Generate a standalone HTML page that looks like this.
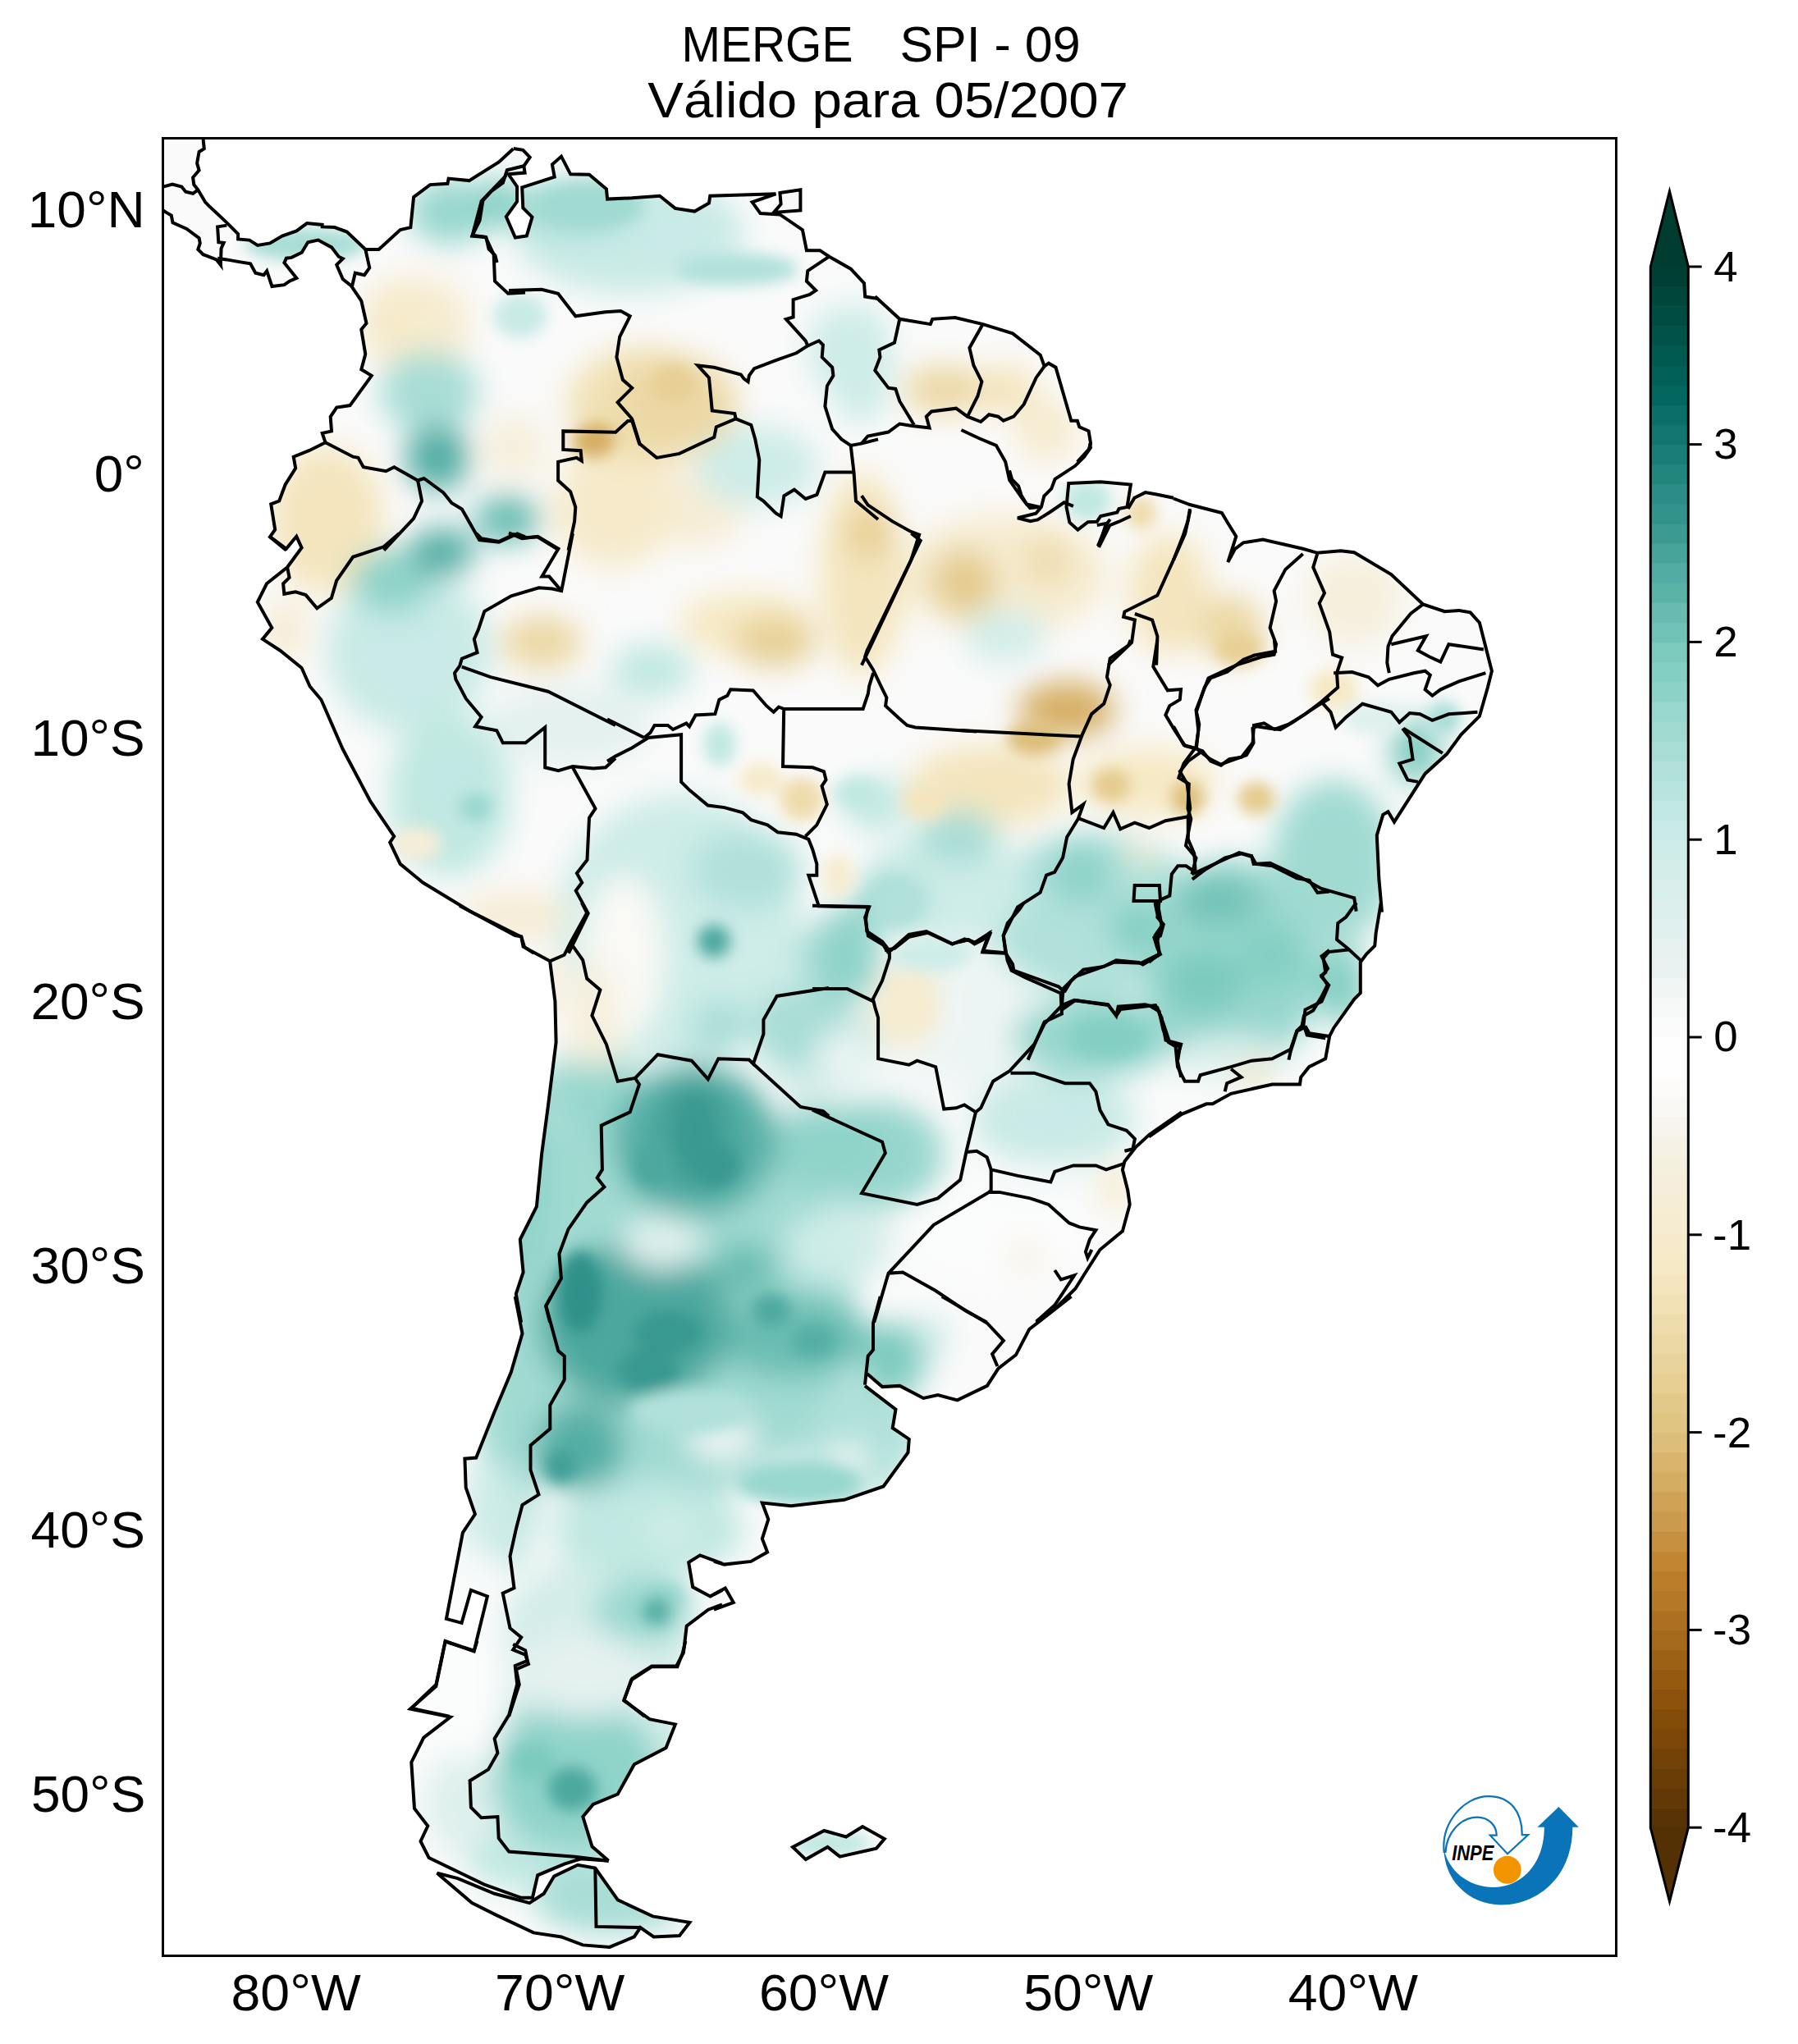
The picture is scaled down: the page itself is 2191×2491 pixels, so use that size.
<!DOCTYPE html>
<html><head><meta charset="utf-8"><style>
html,body{margin:0;padding:0;background:#fff;width:2191px;height:2491px;overflow:hidden}
svg{display:block}
text{font-family:"Liberation Sans",sans-serif;fill:#000}
</style></head><body>
<svg width="2191" height="2491" viewBox="0 0 2191 2491">
<defs><clipPath id="ax"><rect x="198.5" y="168.5" width="1771" height="2215"/></clipPath>
<filter id="bl" x="-5%" y="-5%" width="110%" height="110%"><feGaussianBlur stdDeviation="18"/></filter><filter id="bls" x="-20%" y="-20%" width="140%" height="140%"><feGaussianBlur stdDeviation="9"/></filter>
<clipPath id="landclip"><path d="M247.6 100.0 L247.6 170.0 L248.8 181.3 L242.6 185.0 L240.1 198.8 L242.6 207.6 L235.1 216.3 L236.3 225.1 L241.3 231.3 L250.1 246.3 L255.1 251.4 L275.1 270.1 L290.1 285.1 L290.1 291.4 L303.9 292.6 L313.9 298.9 L328.9 296.4 L343.9 287.6 L361.4 281.4 L374.0 272.1 L392.7 273.9 L392.7 276.4 L407.7 277.1 L422.8 282.6 L445.3 303.9 L461.6 303.9 L487.8 280.1 L500.3 277.1 L504.1 240.1 L524.1 225.1 L545.4 223.8 L546.6 217.6 L571.7 220.1 L608.0 197.5 L625.5 181.3 L625.7 181.1 L637.3 182.8 L645.7 191.7 L638.4 202.3 L639.6 210.6 L619.5 212.3 L630.1 227.3 L630.1 245.6 L616.8 264.0 L627.9 289.6 L641.8 287.4 L648.5 264.5 L637.3 253.4 L636.2 228.4 L675.7 215.6 L672.9 200.6 L684.0 190.6 L695.2 212.3 L718.0 212.8 L740.0 231.2 L738.9 230.1 L740.1 242.6 L770.2 241.3 L804.0 238.8 L822.7 253.9 L846.5 257.6 L864.0 247.6 L865.3 238.8 L945.4 236.3 L916.6 246.3 L926.6 260.1 L950.4 261.4 L977.9 280.1 L982.9 305.2 L999.2 305.2 L1010.4 312.7 L1036.7 327.7 L1053.0 345.2 L1054.2 361.5 L1070.0 364.0 L1066.3 361.3 L1096.3 388.8 L1133.8 395.1 L1136.3 388.8 L1163.9 387.1 L1197.7 395.1 L1234.0 406.4 L1267.7 432.6 L1272.7 446.4 L1277.8 442.7 L1286.5 447.7 L1302.8 504.0 L1305.3 512.7 L1312.8 512.7 L1315.3 520.2 L1326.6 525.3 L1329.1 540.3 L1326.6 547.8 L1312.8 562.8 L1327.9 540.0 L1329.0 545.6 L1321.2 556.7 L1310.1 567.8 L1296.7 576.7 L1285.6 583.9 L1302.3 588.9 L1341.2 587.3 L1377.9 590.6 L1382.4 606.7 L1395.7 600.1 L1408.0 602.3 L1430.0 606.7 L1430.0 607.5 L1450.0 615.0 L1488.8 625.0 L1496.3 637.5 L1506.3 653.8 L1496.3 685.1 L1505.1 668.8 L1515.1 661.3 L1538.9 657.6 L1587.7 668.8 L1605.2 673.8 L1634.0 671.3 L1650.2 673.3 L1695.3 700.1 L1734.1 736.4 L1760.4 745.2 L1777.9 743.9 L1791.7 746.4 L1802.9 758.9 L1817.9 817.7 L1812.9 837.8 L1802.9 872.8 L1780.4 895.3 L1762.9 919.1 L1736.6 942.9 L1699.0 1001.7 L1691.5 989.2 L1685.3 992.9 L1677.8 1018.0 L1680.3 1070.5 L1684.0 1111.6 L1682.8 1100.0 L1676.6 1137.5 L1675.3 1152.6 L1665.3 1162.6 L1657.8 1172.6 L1657.8 1210.1 L1650.3 1217.6 L1637.8 1235.2 L1625.3 1252.7 L1620.2 1262.7 L1615.2 1290.2 L1595.2 1300.2 L1585.2 1312.7 L1584.0 1321.5 L1550.2 1321.5 L1500.1 1332.8 L1477.6 1345.3 L1470.1 1345.3 L1440.0 1357.8 L1400.0 1385.3 L1440.0 1355.3 L1400.5 1382.8 L1384.2 1397.8 L1370.4 1415.4 L1367.9 1425.4 L1374.2 1450.4 L1376.7 1467.9 L1367.9 1500.4 L1340.4 1523.0 L1322.9 1550.5 L1310.4 1570.5 L1290.3 1590.5 L1262.8 1611.6 L1305.5 1580.0 L1254.2 1620.0 L1237.9 1651.3 L1216.6 1667.6 L1202.9 1688.9 L1166.6 1706.4 L1142.8 1700.1 L1125.3 1703.9 L1096.5 1688.9 L1075.2 1690.1 L1056.5 1673.9 L1054.0 1688.9 L1091.5 1717.7 L1087.7 1740.2 L1107.8 1753.9 L1106.5 1770.2 L1076.5 1811.5 L1028.9 1827.8 L963.9 1835.3 L928.8 1831.5 L936.3 1851.6 L928.8 1875.3 L935.1 1891.6 L915.1 1902.9 L882.5 1906.6 L870.0 1902.9 L880.0 1905.4 L853.0 1895.4 L839.2 1904.1 L844.2 1934.1 L865.5 1945.4 L880.0 1937.9 L870.0 1942.9 L883.8 1935.4 L893.8 1952.9 L870.0 1961.7 L880.0 1955.4 L863.0 1961.7 L836.7 1981.7 L835.4 2000.0 L831.7 2015.0 L825.4 2031.3 L794.1 2031.3 L769.1 2047.6 L760.3 2072.6 L791.6 2095.1 L822.9 2101.4 L811.6 2130.1 L772.8 2150.2 L752.8 2186.5 L722.8 2199.0 L710.3 2214.0 L721.5 2250.3 L741.6 2267.8 L741.6 2267.8 L707.8 2265.3 L687.7 2271.6 L655.2 2285.3 L648.9 2312.8 L635.2 2312.8 L590.1 2296.6 L522.6 2264.0 L512.5 2244.0 L521.3 2225.3 L505.0 2204.0 L501.3 2147.7 L516.3 2117.6 L548.8 2092.6 L500.0 2082.6 L531.3 2055.1 L542.6 2000.0 L577.6 2012.5 L581.4 2000.0 L547.6 2091.6 L501.3 2081.8 L531.4 2053.0 L542.6 2000.5 L577.7 2011.7 L593.9 1945.4 L573.9 1937.9 L562.6 1977.9 L543.9 1972.9 L563.9 1867.8 L578.9 1845.3 L567.7 1812.8 L566.4 1777.7 L580.2 1776.5 L602.7 1720.2 L622.7 1672.6 L636.5 1625.1 L627.7 1580.0 L635.1 1611.6 L628.8 1576.8 L637.6 1550.5 L633.8 1510.5 L653.9 1470.4 L660.1 1406.6 L667.6 1350.3 L677.6 1270.2 L676.4 1220.1 L670.1 1171.3 L637.6 1153.8 L635.1 1141.3 L635.4 1141.8 L572.8 1110.5 L515.2 1075.5 L487.7 1052.9 L475.2 1026.7 L480.2 1019.2 L451.4 976.6 L417.6 912.8 L391.4 852.7 L377.6 836.5 L367.6 813.9 L341.3 792.7 L320.0 778.9 L331.3 765.1 L313.8 733.8 L325.0 711.3 L350.1 691.3 L367.6 667.5 L361.3 653.8 L348.8 668.8 L328.8 653.8 L348.9 670.6 L328.9 654.3 L335.2 645.5 L330.2 614.3 L340.2 610.5 L347.7 590.5 L360.2 570.5 L357.7 556.7 L376.5 549.2 L396.5 539.2 L392.7 527.9 L404.0 525.4 L402.7 507.9 L410.2 496.6 L426.5 494.1 L452.8 457.8 L440.3 450.3 L445.3 431.6 L440.3 401.5 L446.5 394.0 L440.3 366.5 L427.8 348.2 L417.8 340.2 L410.2 322.7 L417.8 315.2 L412.7 312.7 L404.0 301.4 L387.7 292.6 L375.2 295.2 L367.7 307.7 L355.2 313.9 L348.9 314.7 L346.4 320.2 L361.4 338.9 L352.7 342.7 L346.4 347.2 L331.4 349.0 L325.2 330.2 L321.4 335.2 L311.4 332.7 L305.1 321.4 L290.1 318.9 L276.3 316.4 L267.6 315.2 L268.8 322.7 L263.8 316.4 L247.6 310.2 L241.3 303.9 L243.8 296.4 L242.6 290.1 L227.5 278.9 L210.5 271.4 L208.8 262.6 L202.5 258.9 L198.8 256.4 L150.0 256.0 L150.0 100.0 Z M950.4 235.1 L975.4 231.3 L975.4 256.4 L942.9 258.9 L951.6 248.8 Z M532.6 2282.8 L557.6 2289.1 L602.6 2307.8 L645.2 2319.1 L662.7 2307.8 L675.2 2286.6 L704.0 2272.8 L725.3 2276.6 L752.8 2315.4 L795.4 2335.4 L840.4 2342.9 L827.9 2359.1 L796.6 2360.4 L780.3 2349.1 L772.8 2360.4 L742.8 2372.9 L710.3 2370.4 L684.0 2360.4 L650.2 2355.4 L605.2 2334.1 L575.1 2319.1 Z M966.0 2251.0 L1004.3 2231.0 L1031.0 2238.5 L1051.1 2226.0 L1077.8 2241.0 L1067.8 2252.7 L1023.5 2262.7 L1008.5 2251.0 L981.8 2266.1 Z"/></clipPath>
</defs>
<g clip-path="url(#ax)">
<path d="M247.6 100.0 L247.6 170.0 L248.8 181.3 L242.6 185.0 L240.1 198.8 L242.6 207.6 L235.1 216.3 L236.3 225.1 L241.3 231.3 L250.1 246.3 L255.1 251.4 L275.1 270.1 L290.1 285.1 L290.1 291.4 L303.9 292.6 L313.9 298.9 L328.9 296.4 L343.9 287.6 L361.4 281.4 L374.0 272.1 L392.7 273.9 L392.7 276.4 L407.7 277.1 L422.8 282.6 L445.3 303.9 L461.6 303.9 L487.8 280.1 L500.3 277.1 L504.1 240.1 L524.1 225.1 L545.4 223.8 L546.6 217.6 L571.7 220.1 L608.0 197.5 L625.5 181.3 L625.7 181.1 L637.3 182.8 L645.7 191.7 L638.4 202.3 L639.6 210.6 L619.5 212.3 L630.1 227.3 L630.1 245.6 L616.8 264.0 L627.9 289.6 L641.8 287.4 L648.5 264.5 L637.3 253.4 L636.2 228.4 L675.7 215.6 L672.9 200.6 L684.0 190.6 L695.2 212.3 L718.0 212.8 L740.0 231.2 L738.9 230.1 L740.1 242.6 L770.2 241.3 L804.0 238.8 L822.7 253.9 L846.5 257.6 L864.0 247.6 L865.3 238.8 L945.4 236.3 L916.6 246.3 L926.6 260.1 L950.4 261.4 L977.9 280.1 L982.9 305.2 L999.2 305.2 L1010.4 312.7 L1036.7 327.7 L1053.0 345.2 L1054.2 361.5 L1070.0 364.0 L1066.3 361.3 L1096.3 388.8 L1133.8 395.1 L1136.3 388.8 L1163.9 387.1 L1197.7 395.1 L1234.0 406.4 L1267.7 432.6 L1272.7 446.4 L1277.8 442.7 L1286.5 447.7 L1302.8 504.0 L1305.3 512.7 L1312.8 512.7 L1315.3 520.2 L1326.6 525.3 L1329.1 540.3 L1326.6 547.8 L1312.8 562.8 L1327.9 540.0 L1329.0 545.6 L1321.2 556.7 L1310.1 567.8 L1296.7 576.7 L1285.6 583.9 L1302.3 588.9 L1341.2 587.3 L1377.9 590.6 L1382.4 606.7 L1395.7 600.1 L1408.0 602.3 L1430.0 606.7 L1430.0 607.5 L1450.0 615.0 L1488.8 625.0 L1496.3 637.5 L1506.3 653.8 L1496.3 685.1 L1505.1 668.8 L1515.1 661.3 L1538.9 657.6 L1587.7 668.8 L1605.2 673.8 L1634.0 671.3 L1650.2 673.3 L1695.3 700.1 L1734.1 736.4 L1760.4 745.2 L1777.9 743.9 L1791.7 746.4 L1802.9 758.9 L1817.9 817.7 L1812.9 837.8 L1802.9 872.8 L1780.4 895.3 L1762.9 919.1 L1736.6 942.9 L1699.0 1001.7 L1691.5 989.2 L1685.3 992.9 L1677.8 1018.0 L1680.3 1070.5 L1684.0 1111.6 L1682.8 1100.0 L1676.6 1137.5 L1675.3 1152.6 L1665.3 1162.6 L1657.8 1172.6 L1657.8 1210.1 L1650.3 1217.6 L1637.8 1235.2 L1625.3 1252.7 L1620.2 1262.7 L1615.2 1290.2 L1595.2 1300.2 L1585.2 1312.7 L1584.0 1321.5 L1550.2 1321.5 L1500.1 1332.8 L1477.6 1345.3 L1470.1 1345.3 L1440.0 1357.8 L1400.0 1385.3 L1440.0 1355.3 L1400.5 1382.8 L1384.2 1397.8 L1370.4 1415.4 L1367.9 1425.4 L1374.2 1450.4 L1376.7 1467.9 L1367.9 1500.4 L1340.4 1523.0 L1322.9 1550.5 L1310.4 1570.5 L1290.3 1590.5 L1262.8 1611.6 L1305.5 1580.0 L1254.2 1620.0 L1237.9 1651.3 L1216.6 1667.6 L1202.9 1688.9 L1166.6 1706.4 L1142.8 1700.1 L1125.3 1703.9 L1096.5 1688.9 L1075.2 1690.1 L1056.5 1673.9 L1054.0 1688.9 L1091.5 1717.7 L1087.7 1740.2 L1107.8 1753.9 L1106.5 1770.2 L1076.5 1811.5 L1028.9 1827.8 L963.9 1835.3 L928.8 1831.5 L936.3 1851.6 L928.8 1875.3 L935.1 1891.6 L915.1 1902.9 L882.5 1906.6 L870.0 1902.9 L880.0 1905.4 L853.0 1895.4 L839.2 1904.1 L844.2 1934.1 L865.5 1945.4 L880.0 1937.9 L870.0 1942.9 L883.8 1935.4 L893.8 1952.9 L870.0 1961.7 L880.0 1955.4 L863.0 1961.7 L836.7 1981.7 L835.4 2000.0 L831.7 2015.0 L825.4 2031.3 L794.1 2031.3 L769.1 2047.6 L760.3 2072.6 L791.6 2095.1 L822.9 2101.4 L811.6 2130.1 L772.8 2150.2 L752.8 2186.5 L722.8 2199.0 L710.3 2214.0 L721.5 2250.3 L741.6 2267.8 L741.6 2267.8 L707.8 2265.3 L687.7 2271.6 L655.2 2285.3 L648.9 2312.8 L635.2 2312.8 L590.1 2296.6 L522.6 2264.0 L512.5 2244.0 L521.3 2225.3 L505.0 2204.0 L501.3 2147.7 L516.3 2117.6 L548.8 2092.6 L500.0 2082.6 L531.3 2055.1 L542.6 2000.0 L577.6 2012.5 L581.4 2000.0 L547.6 2091.6 L501.3 2081.8 L531.4 2053.0 L542.6 2000.5 L577.7 2011.7 L593.9 1945.4 L573.9 1937.9 L562.6 1977.9 L543.9 1972.9 L563.9 1867.8 L578.9 1845.3 L567.7 1812.8 L566.4 1777.7 L580.2 1776.5 L602.7 1720.2 L622.7 1672.6 L636.5 1625.1 L627.7 1580.0 L635.1 1611.6 L628.8 1576.8 L637.6 1550.5 L633.8 1510.5 L653.9 1470.4 L660.1 1406.6 L667.6 1350.3 L677.6 1270.2 L676.4 1220.1 L670.1 1171.3 L637.6 1153.8 L635.1 1141.3 L635.4 1141.8 L572.8 1110.5 L515.2 1075.5 L487.7 1052.9 L475.2 1026.7 L480.2 1019.2 L451.4 976.6 L417.6 912.8 L391.4 852.7 L377.6 836.5 L367.6 813.9 L341.3 792.7 L320.0 778.9 L331.3 765.1 L313.8 733.8 L325.0 711.3 L350.1 691.3 L367.6 667.5 L361.3 653.8 L348.8 668.8 L328.8 653.8 L348.9 670.6 L328.9 654.3 L335.2 645.5 L330.2 614.3 L340.2 610.5 L347.7 590.5 L360.2 570.5 L357.7 556.7 L376.5 549.2 L396.5 539.2 L392.7 527.9 L404.0 525.4 L402.7 507.9 L410.2 496.6 L426.5 494.1 L452.8 457.8 L440.3 450.3 L445.3 431.6 L440.3 401.5 L446.5 394.0 L440.3 366.5 L427.8 348.2 L417.8 340.2 L410.2 322.7 L417.8 315.2 L412.7 312.7 L404.0 301.4 L387.7 292.6 L375.2 295.2 L367.7 307.7 L355.2 313.9 L348.9 314.7 L346.4 320.2 L361.4 338.9 L352.7 342.7 L346.4 347.2 L331.4 349.0 L325.2 330.2 L321.4 335.2 L311.4 332.7 L305.1 321.4 L290.1 318.9 L276.3 316.4 L267.6 315.2 L268.8 322.7 L263.8 316.4 L247.6 310.2 L241.3 303.9 L243.8 296.4 L242.6 290.1 L227.5 278.9 L210.5 271.4 L208.8 262.6 L202.5 258.9 L198.8 256.4 L150.0 256.0 L150.0 100.0 Z M950.4 235.1 L975.4 231.3 L975.4 256.4 L942.9 258.9 L951.6 248.8 Z M532.6 2282.8 L557.6 2289.1 L602.6 2307.8 L645.2 2319.1 L662.7 2307.8 L675.2 2286.6 L704.0 2272.8 L725.3 2276.6 L752.8 2315.4 L795.4 2335.4 L840.4 2342.9 L827.9 2359.1 L796.6 2360.4 L780.3 2349.1 L772.8 2360.4 L742.8 2372.9 L710.3 2370.4 L684.0 2360.4 L650.2 2355.4 L605.2 2334.1 L575.1 2319.1 Z M966.0 2251.0 L1004.3 2231.0 L1031.0 2238.5 L1051.1 2226.0 L1077.8 2241.0 L1067.8 2252.7 L1023.5 2262.7 L1008.5 2251.0 L981.8 2266.1 Z" fill="#fafafa"/>
<g clip-path="url(#landclip)"><g filter="url(#bl)"><ellipse cx="1083" cy="1280" rx="83" ry="67" fill="#f6f9f9"/><ellipse cx="1184" cy="1230" rx="100" ry="100" fill="#edf5f4"/><ellipse cx="717" cy="2080" rx="133" ry="184" fill="#d4ede9"/><ellipse cx="827" cy="1134" rx="150" ry="167" fill="#ceece8"/><ellipse cx="767" cy="285" rx="140" ry="73" fill="#c9eae6"/><ellipse cx="1334" cy="1114" rx="133" ry="100" fill="#b1e1da"/><ellipse cx="1041" cy="1747" rx="77" ry="77" fill="#b1e1da"/><ellipse cx="807" cy="1580" rx="234" ry="250" fill="#a0dad1"/><ellipse cx="623" cy="1614" rx="43" ry="300" fill="#a0dad1"/><ellipse cx="1501" cy="1180" rx="107" ry="133" fill="#98d7cd"/><ellipse cx="724" cy="1330" rx="57" ry="53" fill="#98d7cd"/><ellipse cx="1650" cy="750" rx="50" ry="40" fill="#f5f0e2"/><ellipse cx="693" cy="884" rx="100" ry="50" fill="#e4f1ef"/><ellipse cx="1650" cy="725" rx="60" ry="50" fill="#f5efdc"/><ellipse cx="627" cy="545" rx="40" ry="40" fill="#f5efdc"/><ellipse cx="348" cy="768" rx="30" ry="40" fill="#f6edd7"/><ellipse cx="848" cy="618" rx="60" ry="50" fill="#f6edd7"/><ellipse cx="1040" cy="1514" rx="50" ry="47" fill="#d9eeeb"/><ellipse cx="627" cy="1117" rx="67" ry="33" fill="#f6edd7"/><ellipse cx="1275" cy="525" rx="40" ry="40" fill="#f6ecd1"/><ellipse cx="1225" cy="700" rx="125" ry="75" fill="#f6ecd1"/><ellipse cx="1225" cy="775" rx="50" ry="35" fill="#d4ede9"/><ellipse cx="730" cy="1250" rx="30" ry="50" fill="#f6ecd1"/><ellipse cx="1100" cy="1240" rx="40" ry="40" fill="#f6ecd1"/><ellipse cx="507" cy="395" rx="67" ry="60" fill="#f6ecd1"/><ellipse cx="923" cy="568" rx="75" ry="50" fill="#ceece8"/><ellipse cx="1048" cy="443" rx="40" ry="75" fill="#ceece8"/><ellipse cx="478" cy="393" rx="40" ry="50" fill="#f6eacb"/><ellipse cx="748" cy="618" rx="75" ry="75" fill="#f6eacb"/><ellipse cx="1015" cy="425" rx="30" ry="50" fill="#ceece8"/><ellipse cx="1150" cy="1080" rx="100" ry="67" fill="#ceece8"/><ellipse cx="600" cy="1847" rx="37" ry="67" fill="#ceece8"/><ellipse cx="1111" cy="1201" rx="33" ry="33" fill="#f6eacb"/><ellipse cx="498" cy="793" rx="100" ry="100" fill="#c9eae6"/><ellipse cx="1400" cy="953" rx="83" ry="43" fill="#f6e9c5"/><ellipse cx="1284" cy="1364" rx="100" ry="57" fill="#c9eae6"/><ellipse cx="1000" cy="1275" rx="75" ry="50" fill="#c9eae6"/><ellipse cx="910" cy="760" rx="83" ry="40" fill="#f6e9c5"/><ellipse cx="548" cy="968" rx="75" ry="100" fill="#c1e8e2"/><ellipse cx="398" cy="633" rx="70" ry="90" fill="#f4e5be"/><ellipse cx="1073" cy="718" rx="30" ry="75" fill="#f4e5be"/><ellipse cx="1225" cy="475" rx="40" ry="30" fill="#f4e5be"/><ellipse cx="1050" cy="700" rx="50" ry="125" fill="#f4e5be"/><ellipse cx="1425" cy="725" rx="50" ry="75" fill="#f4e5be"/><ellipse cx="1207" cy="957" rx="100" ry="50" fill="#f4e5be"/><ellipse cx="1067" cy="980" rx="40" ry="33" fill="#c1e8e2"/><ellipse cx="790" cy="1864" rx="117" ry="60" fill="#c1e8e2"/><ellipse cx="650" cy="2264" rx="83" ry="40" fill="#c1e8e2"/><ellipse cx="794" cy="817" rx="50" ry="33" fill="#c1e8e2"/><ellipse cx="784" cy="495" rx="93" ry="73" fill="#f1e1b5"/><ellipse cx="1275" cy="685" rx="30" ry="30" fill="#efdcad"/><ellipse cx="910" cy="1060" rx="67" ry="50" fill="#b1e1da"/><ellipse cx="698" cy="253" rx="75" ry="35" fill="#a8ddd5"/><ellipse cx="523" cy="478" rx="60" ry="50" fill="#a8ddd5"/><ellipse cx="823" cy="493" rx="75" ry="60" fill="#ecd8a5"/><ellipse cx="1150" cy="475" rx="50" ry="30" fill="#ecd8a5"/><ellipse cx="1500" cy="765" rx="40" ry="40" fill="#ecd8a5"/><ellipse cx="1167" cy="1020" rx="50" ry="33" fill="#a8ddd5"/><ellipse cx="744" cy="2314" rx="93" ry="43" fill="#a8ddd5"/><ellipse cx="660" cy="783" rx="50" ry="33" fill="#ecd8a5"/><ellipse cx="1011" cy="1167" rx="40" ry="43" fill="#a8ddd5"/><ellipse cx="877" cy="1251" rx="33" ry="33" fill="#a8ddd5"/><ellipse cx="977" cy="1251" rx="60" ry="50" fill="#a8ddd5"/><ellipse cx="1625" cy="1050" rx="75" ry="100" fill="#a0dad1"/><ellipse cx="1083" cy="1097" rx="43" ry="33" fill="#a0dad1"/><ellipse cx="623" cy="1697" rx="37" ry="83" fill="#a0dad1"/><ellipse cx="548" cy="258" rx="50" ry="40" fill="#98d7cd"/><ellipse cx="1060" cy="650" rx="30" ry="30" fill="#e7cf94"/><ellipse cx="1334" cy="1264" rx="100" ry="50" fill="#98d7cd"/><ellipse cx="1067" cy="1407" rx="83" ry="67" fill="#98d7cd"/><ellipse cx="784" cy="1963" rx="60" ry="40" fill="#98d7cd"/><ellipse cx="944" cy="783" rx="50" ry="30" fill="#e7cf94"/><ellipse cx="478" cy="708" rx="50" ry="40" fill="#8fd3c9"/><ellipse cx="1175" cy="710" rx="40" ry="40" fill="#e4ca8c"/><ellipse cx="1317" cy="1064" rx="40" ry="40" fill="#8fd3c9"/><ellipse cx="1033" cy="1164" rx="40" ry="60" fill="#8fd3c9"/><ellipse cx="630" cy="1413" rx="40" ry="150" fill="#8fd3c9"/><ellipse cx="1007" cy="1397" rx="73" ry="50" fill="#8fd3c9"/><ellipse cx="700" cy="2164" rx="107" ry="93" fill="#8fd3c9"/><ellipse cx="608" cy="248" rx="30" ry="30" fill="#84cfc3"/><ellipse cx="1635" cy="1200" rx="30" ry="50" fill="#84cfc3"/><ellipse cx="1384" cy="1130" rx="33" ry="33" fill="#84cfc3"/><ellipse cx="1551" cy="1164" rx="40" ry="40" fill="#84cfc3"/><ellipse cx="1725" cy="915" rx="30" ry="40" fill="#7ccabe"/><ellipse cx="1467" cy="1197" rx="50" ry="40" fill="#7ccabe"/><ellipse cx="1091" cy="1654" rx="40" ry="43" fill="#7ccabe"/><ellipse cx="1484" cy="1097" rx="50" ry="33" fill="#73c3b8"/><ellipse cx="618" cy="633" rx="40" ry="30" fill="#6abdb2"/><ellipse cx="1300" cy="865" rx="60" ry="35" fill="#d6af65"/><ellipse cx="907" cy="1547" rx="40" ry="33" fill="#6abdb2"/><ellipse cx="967" cy="1630" rx="93" ry="50" fill="#6abdb2"/><ellipse cx="533" cy="558" rx="40" ry="40" fill="#55aea5"/><ellipse cx="538" cy="673" rx="40" ry="30" fill="#55aea5"/><ellipse cx="847" cy="1390" rx="100" ry="93" fill="#55aea5"/><ellipse cx="707" cy="1764" rx="53" ry="53" fill="#55aea5"/><ellipse cx="774" cy="1614" rx="117" ry="100" fill="#4da89f"/><ellipse cx="847" cy="1380" rx="40" ry="67" fill="#389991"/><ellipse cx="1217" cy="1507" rx="117" ry="53" fill="#fbfcfc"/><ellipse cx="557" cy="2047" rx="60" ry="150" fill="#fbfcfc"/><ellipse cx="1284" cy="1437" rx="83" ry="20" fill="#f6f9f9"/><ellipse cx="580" cy="1914" rx="30" ry="27" fill="#f6f9f9"/><ellipse cx="760" cy="1167" rx="50" ry="100" fill="#faf9f6"/><ellipse cx="880" cy="1754" rx="43" ry="27" fill="#edf5f4"/><ellipse cx="1031" cy="1781" rx="30" ry="20" fill="#edf5f4"/><ellipse cx="1027" cy="1284" rx="33" ry="27" fill="#edf5f4"/><ellipse cx="710" cy="2040" rx="83" ry="53" fill="#e4f1ef"/><ellipse cx="1501" cy="1290" rx="73" ry="27" fill="#def0ed"/><ellipse cx="1250" cy="1531" rx="20" ry="17" fill="#f5efdc"/><ellipse cx="807" cy="1514" rx="50" ry="33" fill="#def0ed"/><ellipse cx="560" cy="2197" rx="43" ry="60" fill="#def0ed"/><ellipse cx="720" cy="1234" rx="33" ry="67" fill="#f5efdc"/><ellipse cx="984" cy="1330" rx="33" ry="20" fill="#d9eeeb"/><ellipse cx="817" cy="1864" rx="27" ry="20" fill="#d4ede9"/><ellipse cx="1390" cy="1040" rx="17" ry="13" fill="#f6eacb"/><ellipse cx="1360" cy="1447" rx="20" ry="27" fill="#f6eacb"/><ellipse cx="1007" cy="1520" rx="50" ry="43" fill="#ceece8"/><ellipse cx="1134" cy="1630" rx="20" ry="27" fill="#c9eae6"/><ellipse cx="1527" cy="1310" rx="20" ry="13" fill="#efdcad"/></g><g filter="url(#bls)"><ellipse cx="675" cy="1200" rx="20" ry="40" fill="#f5f0e2"/><ellipse cx="1675" cy="875" rx="40" ry="20" fill="#def0ed"/><ellipse cx="508" cy="1028" rx="30" ry="20" fill="#f6edd7"/><ellipse cx="1107" cy="1230" rx="33" ry="27" fill="#f6ecd1"/><ellipse cx="1021" cy="1067" rx="20" ry="27" fill="#f6ecd1"/><ellipse cx="1133" cy="1164" rx="50" ry="20" fill="#ceece8"/><ellipse cx="927" cy="950" rx="27" ry="20" fill="#f6eacb"/><ellipse cx="1625" cy="840" rx="30" ry="25" fill="#f6e9c5"/><ellipse cx="634" cy="385" rx="33" ry="27" fill="#c9eae6"/><ellipse cx="1325" cy="610" rx="30" ry="25" fill="#c1e8e2"/><ellipse cx="1011" cy="2247" rx="50" ry="17" fill="#c1e8e2"/><ellipse cx="877" cy="907" rx="20" ry="27" fill="#c1e8e2"/><ellipse cx="1044" cy="967" rx="27" ry="20" fill="#c1e8e2"/><ellipse cx="1127" cy="977" rx="27" ry="20" fill="#f4e5be"/><ellipse cx="898" cy="328" rx="75" ry="20" fill="#b1e1da"/><ellipse cx="1390" cy="625" rx="20" ry="20" fill="#efdcad"/><ellipse cx="840" cy="1720" rx="73" ry="27" fill="#b1e1da"/><ellipse cx="977" cy="974" rx="27" ry="27" fill="#efdcad"/><ellipse cx="1094" cy="1100" rx="33" ry="27" fill="#b1e1da"/><ellipse cx="373" cy="298" rx="75" ry="20" fill="#a8ddd5"/><ellipse cx="1760" cy="875" rx="20" ry="20" fill="#a8ddd5"/><ellipse cx="717" cy="251" rx="67" ry="27" fill="#a0dad1"/><ellipse cx="1510" cy="790" rx="30" ry="20" fill="#e7cf94"/><ellipse cx="974" cy="1807" rx="77" ry="27" fill="#98d7cd"/><ellipse cx="807" cy="1947" rx="27" ry="17" fill="#98d7cd"/><ellipse cx="580" cy="984" rx="20" ry="17" fill="#98d7cd"/><ellipse cx="821" cy="468" rx="27" ry="23" fill="#e7cf94"/><ellipse cx="1354" cy="957" rx="23" ry="20" fill="#e4ca8c"/><ellipse cx="1531" cy="973" rx="23" ry="20" fill="#e4ca8c"/><ellipse cx="1350" cy="1264" rx="50" ry="27" fill="#84cfc3"/><ellipse cx="1260" cy="900" rx="33" ry="20" fill="#ddbe78"/><ellipse cx="1447" cy="973" rx="20" ry="20" fill="#ddbe78"/><ellipse cx="650" cy="2147" rx="27" ry="23" fill="#7ccabe"/><ellipse cx="723" cy="538" rx="25" ry="20" fill="#d6af65"/><ellipse cx="727" cy="535" rx="23" ry="20" fill="#d6af65"/><ellipse cx="991" cy="1634" rx="27" ry="20" fill="#55aea5"/><ellipse cx="800" cy="1963" rx="17" ry="17" fill="#55aea5"/><ellipse cx="794" cy="1420" rx="23" ry="27" fill="#4da89f"/><ellipse cx="940" cy="1597" rx="23" ry="20" fill="#4da89f"/><ellipse cx="697" cy="2180" rx="30" ry="27" fill="#4da89f"/><ellipse cx="870" cy="1147" rx="20" ry="20" fill="#4da89f"/><ellipse cx="683" cy="1787" rx="20" ry="20" fill="#419f97"/><ellipse cx="874" cy="1420" rx="27" ry="27" fill="#389991"/><ellipse cx="814" cy="1624" rx="43" ry="27" fill="#389991"/><ellipse cx="790" cy="1670" rx="37" ry="27" fill="#389991"/><ellipse cx="707" cy="1574" rx="27" ry="50" fill="#2f9189"/></g></g>
<g fill="none" stroke="#000" stroke-width="4" stroke-linejoin="miter" stroke-linecap="butt"><path d="M247.6 170.0 L248.8 181.3 L242.6 185.0 L240.1 198.8 L242.6 207.6 L235.1 216.3 L236.3 225.1 L241.3 231.3 L250.1 246.3 L255.1 251.4 L275.1 270.1 L290.1 285.1 L290.1 291.4 L303.9 292.6 L313.9 298.9 L328.9 296.4 L343.9 287.6 L361.4 281.4 L374.0 272.1 L392.7 273.9 L392.7 276.4 L407.7 277.1 L422.8 282.6 L445.3 303.9 L461.6 303.9 L487.8 280.1 L500.3 277.1 L504.1 240.1 L524.1 225.1 L545.4 223.8 L546.6 217.6 L571.7 220.1 L608.0 197.5 L625.5 181.3"/><path d="M198.8 256.4 L202.5 258.9 L208.8 262.6 L210.5 271.4 L227.5 278.9 L242.6 290.1 L243.8 296.4 L241.3 303.9 L247.6 310.2 L263.8 316.4 L268.8 322.7 L267.6 315.2 L276.3 316.4 L290.1 318.9 L305.1 321.4 L311.4 332.7 L321.4 335.2 L325.2 330.2 L331.4 349.0 L346.4 347.2 L352.7 342.7 L361.4 338.9 L346.4 320.2 L348.9 314.7 L355.2 313.9 L367.7 307.7 L375.2 295.2 L387.7 292.6 L404.0 301.4 L412.7 312.7 L417.8 315.2 L410.2 322.7 L417.8 340.2 L427.8 348.2 L440.3 366.5 L446.5 394.0 L440.3 401.5 L445.3 431.6 L440.3 450.3 L452.8 457.8 L426.5 494.1 L410.2 496.6 L402.7 507.9 L404.0 525.4 L392.7 527.9 L396.5 539.2 L376.5 549.2 L357.7 556.7 L360.2 570.5 L347.7 590.5 L340.2 610.5 L330.2 614.3 L335.2 645.5 L328.9 654.3 L348.9 670.6"/><path d="M198.8 227.6 L210.0 224.6 L221.3 227.6 L226.3 233.8 L235.1 235.8 L241.3 231.3"/><path d="M276.3 274.6 L265.1 276.4 L266.3 295.2 L272.6 295.9 L269.6 302.7 L268.8 322.7"/><path d="M445.3 303.9 L450.3 326.4 L444.0 335.2 L432.8 332.7 L429.0 349.0"/><path d="M396.5 539.2 L430.3 556.7 L436.5 557.9 L442.8 569.2 L470.3 574.2 L480.3 569.2 L509.1 585.5 L516.6 583.0 L540.4 600.5 L550.4 613.0 L562.9 620.5 L584.2 658.1 L608.0 660.6 L630.5 650.5 L640.0 654.3"/><path d="M509.1 585.5 L514.1 610.5 L504.1 631.8 L467.8 670.6"/><path d="M640.0 356.5 L619.2 357.7 L603.0 342.7 L601.7 310.2 L591.7 288.9 L575.4 287.6 L586.7 245.1 L616.7 213.8"/><path d="M625.7 181.1 L637.3 182.8 L645.7 191.7 L638.4 202.3 L639.6 210.6 L619.5 212.3 L630.1 227.3 L630.1 245.6 L616.8 264.0 L627.9 289.6 L641.8 287.4 L648.5 264.5 L637.3 253.4 L636.2 228.4 L675.7 215.6 L672.9 200.6 L684.0 190.6 L695.2 212.3 L718.0 212.8 L740.0 231.2"/><path d="M638.4 202.3 L617.9 207.3 L612.9 222.8 L599.0 232.8 L588.4 244.5 L584.5 269.0 L575.6 286.8 L592.3 289.0 L595.6 303.5 L603.4 311.3 L605.6 319.9"/><path d="M738.9 230.1 L740.1 242.6 L770.2 241.3 L804.0 238.8 L822.7 253.9 L846.5 257.6 L864.0 247.6 L865.3 238.8 L945.4 236.3 L916.6 246.3 L926.6 260.1 L950.4 261.4 L977.9 280.1 L982.9 305.2 L999.2 305.2 L1010.4 312.7 L1036.7 327.7 L1053.0 345.2 L1054.2 361.5 L1070.0 364.0"/><path d="M950.4 235.1 L975.4 231.3 L975.4 256.4 L942.9 258.9 L951.6 248.8 Z"/><path d="M620.0 354.0 L660.0 352.7 L680.1 357.7 L701.3 385.3 L737.6 380.2 L756.4 379.0 L767.7 385.3 L755.2 410.3 L751.4 435.3 L758.9 462.8 L770.2 472.8 L752.6 490.4 L770.2 510.4 L780.2 542.9"/><path d="M1010.4 312.7 L984.2 330.2 L982.9 342.7 L994.2 354.0 L986.7 359.0 L966.6 365.2 L966.6 386.5 L957.9 389.0 L981.7 415.3 L984.2 421.5 L970.4 430.3 L945.4 439.1 L919.1 449.1 L912.8 457.8 L911.6 465.3 L906.6 461.6 L902.8 456.6 L870.3 447.8 L850.3 445.3 L864.0 460.3 L867.8 500.4 L895.3 504.1 L896.6 510.4 L872.8 520.4 L870.3 532.9 L827.7 552.9 L800.2 557.9 L778.9 540.4 L770.2 512.9 L765.2 512.9 L750.1 526.7 L686.3 525.4 L686.3 547.9 L707.6 549.2 L708.8 561.7 L702.6 557.9 L680.1 562.9 L680.1 585.5 L695.1 599.2 L701.3 618.0 L700.1 635.5 L692.6 670.6"/><path d="M896.6 510.4 L915.3 517.9 L920.3 535.4 L925.3 560.4 L922.8 605.5 L930.3 610.5 L945.4 625.5 L951.6 629.3 L955.4 604.2 L967.9 596.7 L981.7 608.0 L995.4 603.0 L1005.4 575.5 L1039.2 575.5"/><path d="M984.2 421.5 L997.9 415.3 L1002.9 420.3 L1001.7 435.3 L1014.2 447.8 L1015.4 457.8 L1007.9 470.3 L1005.4 495.4 L1014.2 522.9 L1025.5 535.4 L1036.7 542.9 L1050.5 540.4 L1070.0 535.4"/><path d="M1036.7 542.9 L1040.5 575.5 L1043.0 610.5 L1070.0 633.0"/><path d="M620.0 649.3 L635.0 655.6 L655.0 654.3 L681.3 670.6"/><path d="M1066.3 361.3 L1096.3 388.8 L1133.8 395.1 L1136.3 388.8 L1163.9 387.1 L1197.7 395.1 L1234.0 406.4 L1267.7 432.6 L1272.7 446.4 L1277.8 442.7 L1286.5 447.7 L1302.8 504.0 L1305.3 512.7 L1312.8 512.7 L1315.3 520.2 L1326.6 525.3 L1329.1 540.3 L1326.6 547.8 L1312.8 562.8"/><path d="M1096.3 388.8 L1090.0 417.6 L1071.3 426.4 L1072.5 435.2 L1066.3 451.4 L1082.5 472.7 L1091.3 473.9 L1096.3 489.0 L1113.8 517.7"/><path d="M1197.7 395.1 L1181.4 423.9 L1186.4 445.2 L1196.4 465.2 L1191.4 482.7 L1178.9 507.7"/><path d="M1272.7 446.4 L1262.7 460.2 L1247.7 492.7 L1235.2 507.7 L1222.7 512.7 L1216.4 507.7 L1205.2 505.2 L1195.2 514.0 L1178.9 507.7 L1165.1 497.7 L1135.1 501.5 L1128.8 507.7 L1132.6 521.5 L1111.3 519.0 L1096.3 516.5 L1082.5 526.5 L1057.5 531.5 L1050.0 540.3"/><path d="M1171.4 524.0 L1192.7 534.0 L1213.9 542.8 L1225.2 562.8 L1230.2 585.3 L1247.7 610.3 L1255.2 619.1 L1265.2 617.9"/><path d="M1050.0 604.1 L1057.5 615.4 L1087.5 635.4 L1110.1 647.9 L1120.1 651.6 L1110.1 682.9 L1050.0 810.6"/><path d="M1450.4 621.6 L1444.2 650.4 L1435.4 670.4 L1410.4 725.5 L1370.4 745.5 L1369.1 751.8 L1382.9 755.5 L1379.1 783.0 L1350.3 810.6"/><path d="M1382.9 748.0 L1404.1 755.5 L1410.4 775.5 L1409.1 810.6"/><path d="M1337.8 665.4 L1349.1 637.9 L1352.8 632.9"/><path d="M1327.9 540.0 L1329.0 545.6 L1321.2 556.7 L1310.1 567.8 L1296.7 576.7 L1285.6 583.9 L1281.2 595.6 L1272.3 604.5 L1268.9 617.9 L1262.3 625.7 L1240.0 631.2 L1255.6 635.1 L1264.5 633.4 L1278.9 624.5 L1296.7 612.3 L1307.9 616.8"/><path d="M1302.3 588.9 L1341.2 587.3 L1377.9 590.6 L1373.5 617.9 L1363.5 620.1 L1361.3 624.5 L1341.2 629.0 L1336.8 635.7 L1325.7 636.2 L1313.4 645.7 L1303.4 636.8 L1299.5 617.9 Z"/><path d="M1230.0 573.4 L1233.3 584.5 L1241.1 592.3 L1244.5 603.4 L1251.1 614.5 L1266.7 617.9"/><path d="M1374.6 620.1 L1382.4 606.7 L1395.7 600.1 L1408.0 602.3 L1430.0 606.7"/><path d="M1377.9 629.0 L1363.5 635.7 L1352.4 640.1 L1339.0 666.8 L1347.9 637.9 L1336.8 640.1"/><path d="M1430.0 607.5 L1450.0 615.0 L1488.8 625.0 L1496.3 637.5 L1506.3 653.8 L1496.3 685.1 L1505.1 668.8 L1515.1 661.3 L1538.9 657.6 L1587.7 668.8 L1605.2 673.8 L1634.0 671.3 L1650.2 673.3 L1695.3 700.1 L1734.1 736.4 L1760.4 745.2 L1777.9 743.9 L1791.7 746.4 L1802.9 758.9 L1817.9 817.7 L1812.9 837.8 L1802.9 872.8 L1780.4 895.3 L1762.9 919.1 L1736.6 942.9 L1699.0 1001.7 L1691.5 989.2 L1685.3 992.9 L1677.8 1018.0 L1680.3 1070.5 L1684.0 1111.6"/><path d="M1450.0 620.0 L1447.5 635.0 L1441.3 653.8 L1430.0 682.6"/><path d="M1587.7 675.1 L1566.4 693.9 L1552.6 720.1 L1555.1 732.6 L1547.6 765.2 L1555.1 785.2 L1552.6 797.7 L1538.9 800.2 L1507.6 810.2 L1472.5 826.5 L1457.5 865.3 L1461.3 882.8 L1457.5 910.3 L1442.5 930.4 L1436.3 947.9 L1448.8 955.4 L1447.5 985.4 L1451.3 997.9 L1445.0 1030.5 L1457.5 1045.5 L1452.5 1065.5"/><path d="M1605.2 675.1 L1600.2 691.4 L1614.0 722.6 L1607.7 735.2 L1620.2 770.2 L1624.0 797.7 L1635.2 801.5 L1629.0 820.2"/><path d="M1734.1 736.4 L1719.1 747.7 L1696.5 775.2 L1691.5 787.7 L1690.3 807.7 L1692.8 820.2"/><path d="M1625.2 820.2 L1647.7 819.0 L1667.8 825.3 L1679.0 835.3 L1692.8 827.8 L1722.8 820.2 L1736.6 817.7 L1742.8 822.7 L1736.6 840.3 L1745.4 847.8 L1755.4 840.3 L1777.9 830.3 L1810.4 820.2"/><path d="M1695.3 785.2 L1737.8 775.2 L1727.8 792.7 L1741.6 800.2 L1755.4 806.5 L1765.4 785.2 L1807.9 791.5"/><path d="M1629.0 820.2 L1630.2 837.8 L1610.2 855.3 L1590.2 870.3 L1575.2 880.3 L1560.1 889.1 L1547.6 887.8 L1531.4 885.3 L1526.4 887.8 L1527.6 905.3 L1518.8 920.4 L1497.6 927.9 L1487.6 931.6 L1475.1 925.4 L1460.0 914.1"/><path d="M1610.2 855.3 L1621.5 867.8 L1627.7 886.6 L1640.2 874.1 L1660.3 857.8 L1695.3 867.8 L1705.3 880.3 L1717.8 869.0 L1730.3 870.3 L1745.4 877.8 L1765.4 870.3 L1800.4 867.8"/><path d="M1710.3 887.8 L1757.9 917.9"/><path d="M1709.1 887.8 L1717.8 899.1 L1721.6 925.4 L1705.3 930.4 L1715.3 950.4 L1727.8 952.9"/><path d="M1452.5 1065.5 L1510.1 1039.2 L1525.1 1043.0 L1527.6 1053.0 L1547.6 1051.8 L1585.2 1069.3 L1610.2 1083.0 L1650.2 1094.3 L1652.7 1110.6"/><path d="M1430.0 885.3 L1442.5 907.8 L1460.0 912.8"/><path d="M328.8 653.8 L348.8 668.8 L361.3 653.8 L367.6 667.5 L350.1 691.3 L325.0 711.3 L313.8 733.8 L331.3 765.1 L320.0 778.9 L341.3 792.7 L367.6 813.9 L377.6 836.5 L391.4 852.7 L417.6 912.8 L451.4 976.6 L480.2 1019.2 L475.2 1026.7 L487.7 1052.9 L515.2 1075.5 L572.8 1110.5 L635.4 1141.8 L639.1 1154.3 L650.4 1161.6"/><path d="M350.1 691.3 L352.6 703.8 L345.1 711.3 L346.3 723.8 L360.1 721.3 L372.6 725.1 L386.3 741.4 L403.9 728.8 L410.1 707.6 L430.1 678.8 L467.7 666.3 L486.5 650.0"/><path d="M697.9 650.0 L684.2 720.1 L672.9 717.6 L656.6 716.3 L622.9 726.3 L590.3 745.1 L582.8 767.6 L577.8 778.9 L581.6 795.2 L562.8 802.7 L560.3 811.4 L554.0 820.2 L555.3 827.7 L567.8 851.5 L586.6 874.0 L579.1 885.3 L605.3 890.3 L612.8 905.3 L640.4 905.3 L664.2 886.5 L664.2 935.3 L680.4 939.1 L697.9 934.1 L723.0 936.6 L738.0 935.3 L750.0 924.1"/><path d="M580.3 650.0 L586.6 656.3 L607.8 660.0 L626.6 651.3 L636.6 656.3 L655.4 653.8 L680.4 668.8 L660.4 702.6 L669.2 702.6 L684.2 720.1"/><path d="M562.8 812.7 L597.8 825.2 L667.9 842.7 L750.0 884.0"/><path d="M697.9 935.3 L725.5 985.4 L718.0 996.6 L715.5 1047.9 L702.9 1064.2 L709.2 1075.5 L701.7 1085.5 L716.7 1113.0 L692.9 1161.6"/><path d="M1110.4 650.0 L1121.7 658.8 L1056.6 792.7 L1054.1 800.2 L1064.1 816.4 L1075.4 840.2 L1080.4 850.2 L1079.1 860.2 L1095.4 875.3 L1105.4 884.0 L1115.4 886.5 L1190.0 891.5"/><path d="M1064.1 820.2 L1059.1 836.5 L1057.9 845.2 L1051.6 864.0 L955.2 864.0 L949.0 861.5 L942.7 867.7 L934.0 860.2 L917.7 841.5 L890.2 840.2 L886.4 847.7 L876.4 852.7 L871.4 870.2 L847.6 871.5 L840.1 885.3 L836.4 881.5 L820.1 889.0 L813.8 884.0 L797.6 884.0 L792.6 892.8 L785.1 899.0"/><path d="M955.2 864.0 L954.0 934.1 L990.3 935.3 L1004.0 940.3 L1006.5 950.3 L1001.5 957.8 L1007.8 980.4 L995.3 1005.4 L981.5 1019.2"/><path d="M740.0 876.5 L785.1 899.0"/><path d="M740.0 927.8 L750.0 921.6 L770.0 911.5 L790.1 899.0 L830.1 895.3 L830.1 952.8 L840.1 962.8 L862.6 981.6 L882.7 984.1 L905.2 990.4 L915.2 999.1 L935.2 1005.4 L947.7 1014.2 L970.3 1016.7 L985.3 1022.9 L990.3 1035.4 L995.3 1052.9 L995.3 1066.7 L985.3 1066.7 L997.8 1104.3 L1059.1 1105.5 L1054.1 1118.0 L1057.9 1140.5 L1076.6 1151.8 L1082.9 1161.6"/><path d="M1077.9 1158.1 L1090.4 1155.6 L1107.9 1141.8 L1130.4 1136.8 L1160.5 1150.6 L1175.5 1144.3 L1190.0 1149.3"/><path d="M1170.0 890.1 L1317.7 897.6"/><path d="M1377.7 780.0 L1375.2 786.3 L1352.7 802.5 L1348.9 825.1 L1352.7 835.1 L1345.2 857.6 L1330.2 870.1 L1318.9 895.1 L1307.7 925.2 L1302.6 955.2 L1306.4 990.2 L1320.2 980.2 L1313.9 997.7 L1300.1 1020.3 L1295.1 1045.3 L1285.1 1062.8 L1275.1 1066.6 L1267.6 1087.8 L1240.1 1105.4 L1222.6 1140.4 L1227.6 1170.4 L1232.6 1182.9 L1250.1 1191.7 L1292.6 1210.5 L1293.9 1235.5 L1272.6 1245.5 L1252.6 1291.6"/><path d="M1315.2 997.7 L1345.2 1009.0 L1356.5 990.2 L1365.2 1010.3 L1382.7 1002.7 L1400.3 1009.0 L1420.3 1000.2 L1447.8 995.2 L1450.3 985.2 L1446.6 955.2 L1437.8 940.2 L1447.8 927.7 L1465.3 915.2"/><path d="M1410.3 780.0 L1405.3 812.5 L1422.8 841.3 L1439.0 840.1 L1437.8 852.6 L1425.3 860.1 L1420.3 871.4 L1431.5 890.1 L1444.1 908.9 L1457.8 912.6 L1465.3 915.2 L1475.3 927.7 L1487.9 932.7 L1497.9 925.2 L1512.9 922.7 L1526.6 905.1 L1527.9 883.9 L1540.4 881.4 L1552.9 888.9 L1570.4 882.6 L1590.5 870.1 L1605.5 860.1 L1620.0 851.3"/><path d="M1552.9 780.0 L1554.2 793.8 L1527.9 798.8 L1515.4 803.8 L1495.4 818.8 L1475.3 826.3 L1467.8 837.6 L1457.8 867.6 L1460.3 890.1 L1457.8 912.6"/><path d="M1447.8 995.2 L1447.8 1022.8 L1455.3 1040.3 L1456.6 1062.8 L1445.3 1055.3 L1435.3 1055.3 L1427.8 1065.3 L1425.3 1091.6 L1414.0 1096.6"/><path d="M1452.8 1071.6 L1467.8 1060.3 L1492.9 1045.3 L1512.9 1040.3 L1525.4 1044.0 L1530.4 1052.8 L1550.4 1055.3 L1580.5 1070.3 L1595.5 1072.8 L1605.5 1087.8 L1620.0 1086.6"/><path d="M1382.7 1079.1 L1412.8 1079.1 L1414.0 1097.9 L1381.5 1097.9 Z"/><path d="M1412.8 1096.6 L1410.3 1117.9 L1417.8 1126.6 L1414.0 1140.4 L1406.5 1142.9 L1410.3 1155.4 L1414.0 1162.9 L1392.7 1175.4 L1387.7 1172.9 L1360.2 1170.4 L1345.2 1177.9 L1320.2 1181.7 L1305.2 1195.5 L1297.6 1208.0 L1292.6 1210.5"/><path d="M1293.9 1230.5 L1310.2 1219.2 L1350.2 1224.2 L1360.2 1238.0 L1362.7 1226.7 L1395.3 1224.2 L1410.3 1228.0 L1417.8 1248.0 L1425.3 1270.5 L1437.8 1275.6 L1435.3 1291.6"/><path d="M1170.0 1147.9 L1180.0 1145.4 L1187.5 1150.4 L1197.5 1145.4 L1207.5 1135.4 L1197.5 1160.4 L1225.1 1161.7"/><path d="M1620.0 1157.9 L1610.5 1165.4 L1618.0 1180.4 L1610.5 1190.5 L1619.2 1200.5 L1610.5 1220.5 L1590.5 1230.5 L1588.0 1253.0 L1580.5 1256.8 L1572.9 1280.6 L1570.4 1291.6"/><path d="M1590.5 1250.5 L1595.5 1259.3 L1620.0 1263.0"/><path d="M1682.8 1100.0 L1676.6 1137.5 L1675.3 1152.6 L1665.3 1162.6 L1657.8 1172.6 L1657.8 1210.1 L1650.3 1217.6 L1637.8 1235.2 L1625.3 1252.7 L1620.2 1262.7 L1615.2 1290.2 L1595.2 1300.2 L1585.2 1312.7 L1584.0 1321.5 L1550.2 1321.5 L1500.1 1332.8 L1477.6 1345.3 L1470.1 1345.3 L1440.0 1357.8 L1400.0 1385.3"/><path d="M1652.8 1100.0 L1640.3 1117.5 L1630.3 1125.0 L1629.0 1145.1 L1642.8 1156.3 L1657.8 1170.1"/><path d="M1642.8 1157.6 L1619.0 1160.1 L1612.7 1167.6 L1615.2 1185.1 L1610.2 1188.8 L1617.7 1200.1 L1610.2 1215.1 L1600.2 1231.4 L1589.0 1237.7 L1586.5 1250.2 L1580.2 1256.4 L1572.7 1278.9 L1550.2 1290.2 L1525.1 1292.7 L1500.1 1300.2 L1462.6 1310.2 L1460.1 1317.7 L1443.8 1317.7 L1435.0 1300.2 L1432.5 1275.2 L1423.8 1270.2 L1417.5 1255.2 L1412.5 1232.6 L1400.0 1225.1"/><path d="M1589.0 1250.2 L1592.7 1261.4 L1615.2 1265.2"/><path d="M1500.1 1302.7 L1512.6 1312.7 L1495.1 1320.2 L1492.6 1330.3"/><path d="M1407.5 1100.0 L1410.0 1112.5 L1416.3 1127.5 L1407.5 1140.0 L1410.0 1147.6 L1412.5 1162.6 L1400.0 1172.6"/><path d="M560.0 1103.8 L627.6 1140.0 L635.1 1141.3 L637.6 1153.8 L670.1 1171.3 L676.4 1220.1 L677.6 1270.2 L667.6 1350.3 L660.1 1406.6 L653.9 1470.4 L633.8 1510.5 L637.6 1550.5 L628.8 1576.8 L635.1 1611.6"/><path d="M670.1 1171.3 L687.6 1163.8 L695.2 1148.8 L715.2 1112.5 L708.9 1100.0"/><path d="M695.2 1148.8 L710.2 1170.1 L715.2 1192.6 L731.4 1206.4 L721.4 1237.7 L738.9 1272.7 L752.7 1317.7 L774.0 1314.0 L801.5 1285.2 L842.8 1292.7 L862.8 1315.2 L875.4 1290.2 L912.9 1291.5 L917.9 1296.5 L930.4 1260.2 L930.4 1242.7 L946.7 1213.9 L1010.0 1203.9"/><path d="M917.9 1296.5 L975.5 1349.0 L1003.0 1354.0 L1010.0 1360.3"/><path d="M774.0 1314.0 L779.0 1321.5 L767.7 1355.3 L732.7 1371.6 L733.9 1425.4 L727.7 1435.4 L736.4 1446.6 L715.2 1465.4 L692.6 1497.9 L681.4 1528.0 L683.9 1558.0 L665.1 1591.8 L670.1 1611.6"/><path d="M990.0 1205.1 L1032.5 1205.1 L1063.8 1220.1"/><path d="M990.0 1103.8 L1057.6 1105.0 L1055.1 1120.0 L1056.3 1135.0 L1075.1 1147.6 L1083.9 1158.8 L1083.9 1167.6 L1075.1 1195.1 L1063.8 1217.6 L1066.3 1227.6 L1070.1 1240.2 L1070.1 1290.2 L1107.6 1297.7 L1117.6 1292.7 L1140.2 1300.2 L1150.2 1351.5 L1165.2 1350.3 L1175.2 1346.5 L1189.0 1355.3 L1177.7 1402.8 L1170.2 1437.9 L1142.7 1460.4 L1117.6 1467.9 L1050.1 1454.1 L1078.8 1405.3 L1075.1 1391.6 L990.0 1352.8"/><path d="M1085.1 1158.8 L1107.6 1138.8 L1128.9 1135.0 L1160.2 1150.1 L1180.2 1145.1 L1187.7 1148.8 L1205.2 1137.5 L1197.7 1158.8 L1225.3 1161.3 L1222.8 1140.0 L1227.8 1125.0 L1242.8 1107.5 L1247.8 1100.0"/><path d="M1225.3 1161.3 L1234.0 1175.1 L1235.3 1182.6 L1290.3 1202.6 L1295.3 1207.6 L1294.1 1225.1 L1272.8 1247.7 L1260.3 1272.7 L1230.3 1305.2 L1210.2 1317.7 L1195.2 1350.3 L1189.0 1355.3"/><path d="M1295.3 1205.1 L1310.4 1190.1 L1345.4 1177.6 L1357.9 1172.6 L1390.4 1173.8 L1413.0 1162.6 L1410.5 1146.3 L1415.5 1127.5 L1410.5 1100.0"/><path d="M1294.1 1225.1 L1309.1 1218.9 L1350.4 1225.1 L1360.4 1237.7 L1365.4 1230.1 L1408.0 1225.1 L1415.5 1240.2 L1420.5 1267.7 L1439.2 1272.7 L1434.2 1290.2 L1439.2 1312.7"/><path d="M1231.5 1307.7 L1260.3 1307.7 L1297.8 1320.2 L1327.9 1320.2 L1335.4 1330.3 L1340.4 1352.8 L1350.4 1370.3 L1372.9 1377.8 L1382.9 1387.8 L1380.4 1400.3 L1370.4 1402.8"/><path d="M1177.7 1404.1 L1190.2 1402.8 L1202.7 1410.3 L1207.7 1425.4 L1240.3 1432.9 L1280.3 1440.4 L1285.3 1427.9 L1307.9 1420.4 L1335.4 1420.4 L1347.9 1425.4 L1370.4 1417.9"/><path d="M1207.7 1425.4 L1207.7 1450.4 L1205.2 1452.9 L1137.7 1492.9 L1082.6 1551.8 L1065.1 1611.6"/><path d="M1205.2 1452.9 L1217.8 1452.9 L1255.3 1460.4 L1277.8 1467.9 L1302.8 1490.4 L1315.4 1495.4 L1335.4 1499.2 L1327.9 1510.5 L1322.9 1525.5 L1325.4 1533.0 L1330.4 1523.0"/><path d="M1082.6 1551.8 L1100.1 1550.5 L1140.2 1573.0 L1177.7 1598.1 L1202.7 1611.6"/><path d="M1440.0 1355.3 L1400.5 1382.8 L1384.2 1397.8 L1370.4 1415.4 L1367.9 1425.4 L1374.2 1450.4 L1376.7 1467.9 L1367.9 1500.4 L1340.4 1523.0 L1322.9 1550.5 L1310.4 1570.5 L1290.3 1590.5 L1262.8 1611.6"/><path d="M1285.3 1548.0 L1292.8 1559.3 L1309.1 1554.3 L1295.3 1575.5 L1285.3 1590.5 L1262.8 1610.6"/><path d="M1072.7 1580.0 L1064.0 1612.5 L1064.0 1645.1 L1057.7 1652.6 L1054.0 1687.6"/><path d="M1054.0 1688.9 L1091.5 1717.7 L1087.7 1740.2 L1107.8 1753.9 L1106.5 1770.2 L1076.5 1811.5 L1028.9 1827.8 L963.9 1835.3 L928.8 1831.5 L936.3 1851.6 L928.8 1875.3 L935.1 1891.6 L915.1 1902.9 L882.5 1906.6 L870.0 1902.9"/><path d="M1056.5 1673.9 L1075.2 1690.1 L1096.5 1688.9 L1125.3 1703.9 L1142.8 1700.1 L1166.6 1706.4 L1202.9 1688.9 L1216.6 1667.6 L1237.9 1651.3 L1254.2 1620.0 L1305.5 1580.0"/><path d="M1147.8 1580.0 L1156.6 1585.0 L1202.9 1612.5 L1222.9 1633.8 L1209.1 1650.1 L1215.4 1665.1"/><path d="M870.0 1942.9 L883.8 1935.4 L893.8 1952.9 L870.0 1961.7"/><path d="M627.7 1580.0 L636.5 1625.1 L622.7 1672.6 L602.7 1720.2 L580.2 1776.5 L566.4 1777.7 L567.7 1812.8 L578.9 1845.3 L563.9 1867.8 L543.9 1972.9 L562.6 1977.9 L573.9 1937.9 L593.9 1945.4 L577.7 2011.7 L542.6 2000.5 L531.4 2053.0 L501.3 2081.8 L547.6 2091.6"/><path d="M671.5 1580.0 L665.3 1591.3 L680.3 1646.3 L687.8 1652.6 L687.8 1681.4 L670.3 1712.6 L670.3 1741.4 L646.5 1761.5 L646.5 1791.5 L656.5 1821.5 L636.5 1834.0 L629.0 1862.8 L621.5 1896.6 L626.5 1935.4 L612.7 1941.7 L621.5 1984.2 L635.2 1995.5 L625.2 2010.5 L640.2 2016.7 L644.0 2028.0 L629.0 2034.3 L632.7 2053.0 L620.2 2091.6"/><path d="M880.0 1905.4 L853.0 1895.4 L839.2 1904.1 L844.2 1934.1 L865.5 1945.4 L880.0 1937.9"/><path d="M880.0 1955.4 L863.0 1961.7 L836.7 1981.7 L832.9 2014.2 L824.2 2030.5 L794.2 2030.5 L770.4 2045.5 L760.4 2071.8 L785.4 2091.6"/><path d="M581.4 2000.0 L577.6 2012.5 L542.6 2000.0 L531.3 2055.1 L500.0 2082.6 L548.8 2092.6 L516.3 2117.6 L501.3 2147.7 L505.0 2204.0 L521.3 2225.3 L512.5 2244.0 L522.6 2264.0 L590.1 2296.6 L635.2 2312.8 L648.9 2312.8 L655.2 2285.3 L687.7 2271.6 L707.8 2265.3 L741.6 2267.8"/><path d="M625.2 2003.8 L640.2 2011.3 L642.7 2023.8 L627.7 2030.0 L630.2 2052.6 L620.2 2090.1 L602.6 2118.9 L606.4 2136.4 L595.1 2156.4 L572.6 2170.2 L573.9 2202.7 L586.4 2215.2 L606.4 2214.0 L607.7 2240.3 L620.2 2256.5 L700.3 2262.8 L741.6 2267.8"/><path d="M835.4 2000.0 L831.7 2015.0 L825.4 2031.3 L794.1 2031.3 L769.1 2047.6 L760.3 2072.6 L791.6 2095.1 L822.9 2101.4 L811.6 2130.1 L772.8 2150.2 L752.8 2186.5 L722.8 2199.0 L710.3 2214.0 L721.5 2250.3 L741.6 2267.8"/><path d="M532.6 2282.8 L557.6 2289.1 L602.6 2307.8 L645.2 2319.1 L662.7 2307.8 L675.2 2286.6 L704.0 2272.8 L725.3 2276.6 L752.8 2315.4 L795.4 2335.4 L840.4 2342.9 L827.9 2359.1 L796.6 2360.4 L780.3 2349.1 L772.8 2360.4 L742.8 2372.9 L710.3 2370.4 L684.0 2360.4 L650.2 2355.4 L605.2 2334.1 L575.1 2319.1 Z"/><path d="M725.3 2276.6 L726.5 2347.9 L780.3 2349.1"/><path d="M966.0 2251.0 L1004.3 2231.0 L1031.0 2238.5 L1051.1 2226.0 L1077.8 2241.0 L1067.8 2252.7 L1023.5 2262.7 L1008.5 2251.0 L981.8 2266.1 Z"/></g>
</g>
<rect x="198.5" y="168.5" width="1771" height="2215" fill="none" stroke="#000" stroke-width="3"/>
<rect x="2011.3" y="2203.12" width="46.0" height="24.68" fill="#583305"/><rect x="2011.3" y="2179.04" width="46.0" height="24.68" fill="#613806"/><rect x="2011.3" y="2154.96" width="46.0" height="24.68" fill="#6a3d07"/><rect x="2011.3" y="2130.89" width="46.0" height="24.68" fill="#734208"/><rect x="2011.3" y="2106.81" width="46.0" height="24.68" fill="#7c4709"/><rect x="2011.3" y="2082.73" width="46.0" height="24.68" fill="#844c09"/><rect x="2011.3" y="2058.65" width="46.0" height="24.68" fill="#8d520b"/><rect x="2011.3" y="2034.57" width="46.0" height="24.68" fill="#955910"/><rect x="2011.3" y="2010.49" width="46.0" height="24.68" fill="#9d6116"/><rect x="2011.3" y="1986.42" width="46.0" height="24.68" fill="#a5691b"/><rect x="2011.3" y="1962.34" width="46.0" height="24.68" fill="#ad7021"/><rect x="2011.3" y="1938.26" width="46.0" height="24.68" fill="#b57826"/><rect x="2011.3" y="1914.18" width="46.0" height="24.68" fill="#bb7d2a"/><rect x="2011.3" y="1890.10" width="46.0" height="24.68" fill="#c28633"/><rect x="2011.3" y="1866.02" width="46.0" height="24.68" fill="#c79040"/><rect x="2011.3" y="1841.94" width="46.0" height="24.68" fill="#cc9a4c"/><rect x="2011.3" y="1817.87" width="46.0" height="24.68" fill="#cfa256"/><rect x="2011.3" y="1793.79" width="46.0" height="24.68" fill="#d4ac62"/><rect x="2011.3" y="1769.71" width="46.0" height="24.68" fill="#d8b46c"/><rect x="2011.3" y="1745.63" width="46.0" height="24.68" fill="#ddbe78"/><rect x="2011.3" y="1721.55" width="46.0" height="24.68" fill="#e0c481"/><rect x="2011.3" y="1697.47" width="46.0" height="24.68" fill="#e3c989"/><rect x="2011.3" y="1673.39" width="46.0" height="24.68" fill="#e7cf94"/><rect x="2011.3" y="1649.32" width="46.0" height="24.68" fill="#e9d39d"/><rect x="2011.3" y="1625.24" width="46.0" height="24.68" fill="#ecd8a5"/><rect x="2011.3" y="1601.16" width="46.0" height="24.68" fill="#efdcad"/><rect x="2011.3" y="1577.08" width="46.0" height="24.68" fill="#f1e1b5"/><rect x="2011.3" y="1553.00" width="46.0" height="24.68" fill="#f4e5be"/><rect x="2011.3" y="1528.92" width="46.0" height="24.68" fill="#f6e9c5"/><rect x="2011.3" y="1504.85" width="46.0" height="24.68" fill="#f6eacb"/><rect x="2011.3" y="1480.77" width="46.0" height="24.68" fill="#f6ecd1"/><rect x="2011.3" y="1456.69" width="46.0" height="24.68" fill="#f6edd5"/><rect x="2011.3" y="1432.61" width="46.0" height="24.68" fill="#f6eedb"/><rect x="2011.3" y="1408.53" width="46.0" height="24.68" fill="#f5efde"/><rect x="2011.3" y="1384.45" width="46.0" height="24.68" fill="#f5f1e4"/><rect x="2011.3" y="1360.37" width="46.0" height="24.68" fill="#f7f4ed"/><rect x="2011.3" y="1336.30" width="46.0" height="24.68" fill="#f9f8f4"/><rect x="2011.3" y="1312.22" width="46.0" height="24.68" fill="#fcfbfa"/><rect x="2011.3" y="1288.14" width="46.0" height="24.68" fill="#fefefe"/><rect x="2011.3" y="1264.06" width="46.0" height="24.68" fill="#fefefe"/><rect x="2011.3" y="1239.98" width="46.0" height="24.68" fill="#fbfbfb"/><rect x="2011.3" y="1215.90" width="46.0" height="24.68" fill="#f7f9f9"/><rect x="2011.3" y="1191.83" width="46.0" height="24.68" fill="#f1f6f5"/><rect x="2011.3" y="1167.75" width="46.0" height="24.68" fill="#e9f2f1"/><rect x="2011.3" y="1143.67" width="46.0" height="24.68" fill="#e6f1f0"/><rect x="2011.3" y="1119.59" width="46.0" height="24.68" fill="#e0f0ee"/><rect x="2011.3" y="1095.51" width="46.0" height="24.68" fill="#ddefed"/><rect x="2011.3" y="1071.43" width="46.0" height="24.68" fill="#d7eeeb"/><rect x="2011.3" y="1047.35" width="46.0" height="24.68" fill="#d4ede9"/><rect x="2011.3" y="1023.28" width="46.0" height="24.68" fill="#ceece8"/><rect x="2011.3" y="999.20" width="46.0" height="24.68" fill="#c9eae6"/><rect x="2011.3" y="975.12" width="46.0" height="24.68" fill="#c1e8e2"/><rect x="2011.3" y="951.04" width="46.0" height="24.68" fill="#b9e4de"/><rect x="2011.3" y="926.96" width="46.0" height="24.68" fill="#b1e1da"/><rect x="2011.3" y="902.88" width="46.0" height="24.68" fill="#a8ddd5"/><rect x="2011.3" y="878.81" width="46.0" height="24.68" fill="#a0dad1"/><rect x="2011.3" y="854.73" width="46.0" height="24.68" fill="#98d7cd"/><rect x="2011.3" y="830.65" width="46.0" height="24.68" fill="#8dd2c7"/><rect x="2011.3" y="806.57" width="46.0" height="24.68" fill="#84cfc3"/><rect x="2011.3" y="782.49" width="46.0" height="24.68" fill="#7ccabe"/><rect x="2011.3" y="758.41" width="46.0" height="24.68" fill="#70c1b6"/><rect x="2011.3" y="734.33" width="46.0" height="24.68" fill="#67bbb0"/><rect x="2011.3" y="710.26" width="46.0" height="24.68" fill="#5bb3a8"/><rect x="2011.3" y="686.18" width="46.0" height="24.68" fill="#52aca3"/><rect x="2011.3" y="662.10" width="46.0" height="24.68" fill="#47a49b"/><rect x="2011.3" y="638.02" width="46.0" height="24.68" fill="#3b9b93"/><rect x="2011.3" y="613.94" width="46.0" height="24.68" fill="#31938b"/><rect x="2011.3" y="589.86" width="46.0" height="24.68" fill="#2b8d85"/><rect x="2011.3" y="565.78" width="46.0" height="24.68" fill="#23867e"/><rect x="2011.3" y="541.71" width="46.0" height="24.68" fill="#1a7e76"/><rect x="2011.3" y="517.63" width="46.0" height="24.68" fill="#12766e"/><rect x="2011.3" y="493.55" width="46.0" height="24.68" fill="#0a6f67"/><rect x="2011.3" y="469.47" width="46.0" height="24.68" fill="#02675f"/><rect x="2011.3" y="445.39" width="46.0" height="24.68" fill="#016058"/><rect x="2011.3" y="421.31" width="46.0" height="24.68" fill="#015a50"/><rect x="2011.3" y="397.24" width="46.0" height="24.68" fill="#015349"/><rect x="2011.3" y="373.16" width="46.0" height="24.68" fill="#004c42"/><rect x="2011.3" y="349.08" width="46.0" height="24.68" fill="#00463b"/><rect x="2011.3" y="325.00" width="46.0" height="24.68" fill="#003f34"/><polygon points="2011.3,325.5 2034.5,231.0 2057.3,325.5" fill="#003c30"/><polygon points="2011.3,2226.7 2034.5,2319.0 2057.3,2226.7" fill="#543005"/><polygon points="2011.3,325.0 2034.5,233.0 2057.3,325.0 2057.3,2227.2 2034.5,2317.5 2011.3,2227.2" fill="none" stroke="#000" stroke-width="3" stroke-linejoin="miter" stroke-miterlimit="10"/><line x1="2057.3" y1="325.0" x2="2073.7" y2="325.0" stroke="#000" stroke-width="3"/><line x1="2057.3" y1="2227.2" x2="2073.7" y2="2227.2" stroke="#000" stroke-width="3"/><line x1="2057.3" y1="1986.4" x2="2073.7" y2="1986.4" stroke="#000" stroke-width="3"/><line x1="2057.3" y1="1745.6" x2="2073.7" y2="1745.6" stroke="#000" stroke-width="3"/><line x1="2057.3" y1="1504.8" x2="2073.7" y2="1504.8" stroke="#000" stroke-width="3"/><line x1="2057.3" y1="1264.0" x2="2073.7" y2="1264.0" stroke="#000" stroke-width="3"/><line x1="2057.3" y1="1023.2" x2="2073.7" y2="1023.2" stroke="#000" stroke-width="3"/><line x1="2057.3" y1="782.4" x2="2073.7" y2="782.4" stroke="#000" stroke-width="3"/><line x1="2057.3" y1="541.6" x2="2073.7" y2="541.6" stroke="#000" stroke-width="3"/>
<text transform="translate(830.54 74.69) scale(0.9278 1)" font-size="61.41">MERGE</text><text transform="translate(1096.45 74.69) scale(0.9928 1)" font-size="61.41">SPI - 09</text><text transform="translate(789.35 143.00) scale(1.0657 1)" font-size="61.41">Válido para 05/2007</text><text transform="translate(33.80 276.77) scale(1.0181 1)" font-size="62.82">10°N</text><text transform="translate(114.78 598.67) scale(1.0181 1)" font-size="62.82">0°</text><text transform="translate(37.38 920.57) scale(1.0181 1)" font-size="62.82">10°S</text><text transform="translate(37.38 1242.47) scale(1.0181 1)" font-size="62.82">20°S</text><text transform="translate(37.58 1564.37) scale(1.0181 1)" font-size="62.82">30°S</text><text transform="translate(37.58 1886.27) scale(1.0181 1)" font-size="62.82">40°S</text><text transform="translate(37.98 2208.17) scale(1.0181 1)" font-size="62.82">50°S</text><text transform="translate(281.52 2449.78) scale(1.0368 1)" font-size="62.11">80°W</text><text transform="translate(603.10 2449.78) scale(1.0368 1)" font-size="62.11">70°W</text><text transform="translate(925.00 2449.78) scale(1.0368 1)" font-size="62.11">60°W</text><text transform="translate(1247.22 2449.78) scale(1.0368 1)" font-size="62.11">50°W</text><text transform="translate(1569.77 2449.78) scale(1.0368 1)" font-size="62.11">40°W</text><text transform="translate(2088.25 343.00) scale(1.0272 1)" font-size="51.43">4</text><text transform="translate(2087.07 2245.20) scale(1.0272 1)" font-size="51.43">-4</text><text transform="translate(2087.07 2003.89) scale(1.0272 1)" font-size="51.43">-3</text><text transform="translate(2087.07 1763.60) scale(1.0272 1)" font-size="51.43">-2</text><text transform="translate(2087.07 1522.80) scale(1.0272 1)" font-size="51.43">-1</text><text transform="translate(2088.25 1281.49) scale(1.0272 1)" font-size="51.43">0</text><text transform="translate(2088.25 1041.20) scale(1.0272 1)" font-size="51.43">1</text><text transform="translate(2088.25 800.40) scale(1.0272 1)" font-size="51.43">2</text><text transform="translate(2088.25 559.09) scale(1.0272 1)" font-size="51.43">3</text>
<g transform="translate(1740 2180) scale(0.11123)">
<path d="M172,650 C 190,1060 500,1272 800,1272 C 1210,1272 1585,960 1585,420 L1652,420 L1433,198 L1200,420 L1275,420 C 1275,850 1000,1078 720,1078 C 440,1078 225,900 172,650 Z" fill="#0a74b9"/>
<path d="M178,700 C 140,380 390,82 662,82 C 905,82 1032,250 1032,505 L1098,505 L872,712 L682,510 L752,510 C 752,400 665,312 540,312 C 360,312 205,480 192,700" fill="none" stroke="#0a74b9" stroke-width="20"/>
<text x="262" y="778" font-family="Liberation Sans" font-weight="bold" font-style="italic" font-size="225" textLength="460" lengthAdjust="spacingAndGlyphs" fill="#1a1a1a">INPE</text>
<circle cx="870" cy="888" r="152" fill="#f29400"/>
</g>

</svg></body></html>
